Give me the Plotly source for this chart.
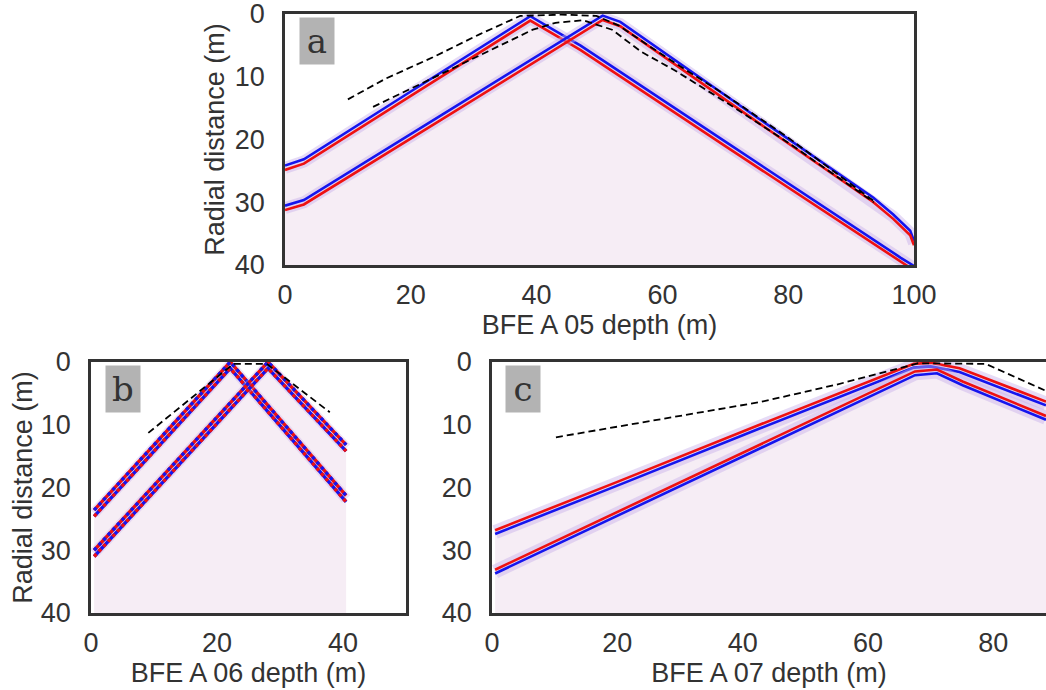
import numpy as np
import plotly.graph_objects as go

# picks read off the sections: first arrival (e1) and second arrival (e2), plus the dashed model curves
# panel a - BFE A 05
a_e1_x = [0, 3, 20, 39, 44.8, 47, 70, 90, 97.9, 100]
a_e1_y = [24.5, 23.5, 12.7, 0.7, 4.1, 5.4, 20.7, 34.0, 39.2, 40.5]
a_e2_x = [0, 3, 25, 44.8, 50.5, 53.3, 75, 93.5, 96.7, 99.4, 100]
a_e2_y = [30.9, 30.0, 16.4, 4.1, 0.6, 1.6, 16.8, 29.6, 32.3, 34.9, 36.5]
a_d1_x = [10.0, 16, 23.5, 31, 37.4, 44, 49.5, 53, 57, 62, 70, 80, 93.6]
a_d1_y = [13.6, 10.3, 6.9, 3.2, 0.3, 0.1, 0.3, 1.8, 4.5, 7.8, 12.9, 19.7, 29.8]
a_d2_x = [14.0, 21, 28.9, 34, 39.4, 43, 47.4, 52, 56.6, 62, 70, 80, 93.6]
a_d2_y = [14.8, 11.4, 7.6, 5.0, 2.5, 1.4, 1.0, 2.5, 6.0, 9.0, 14.0, 20.5, 30.0]

# panel b - BFE A 06
b_e1_x = [0.5, 22.1, 40.5]
b_e1_y = [24.1, 0.5, 21.8]
b_e2_x = [0.5, 25.5, 28.1, 40.5]
b_e2_y = [30.5, 3.3, 0.5, 13.7]
b_d_x = [9.1, 22.6, 27.9, 37.9]
b_d_y = [11.3, 0.3, 0.3, 8.0]

# panel c - BFE A 07
c_e1_x = [0.5, 20, 42.7, 60, 67.3, 70, 74.6, 88.4]
c_e1_y = [27.1, 19.4, 10.3, 3.4, 0.6, 0.4, 1.3, 6.6]
c_e2_x = [0.5, 20, 45, 60, 67.5, 71, 75.1, 88.4]
c_e2_y = [33.4, 24.2, 12.4, 5.3, 1.8, 1.5, 3.4, 8.9]
c_d_x = [10.2, 25, 42.7, 55, 68, 78.8, 88.4]
c_d_y = [12.0, 9.4, 6.4, 3.6, 0.2, 0.3, 4.6]

RED = '#ee1111'
BLUE = '#1515ee'
FONT = 'Liberation Sans'
TXT = '#333333'

fig = go.Figure()


def noise_fill(e1x, e1y, e2x, e2y, xmax, xa, ya):
    # faint background texture below the first arrivals
    xs = np.union1d(e1x, e2x)
    xs = xs[xs <= xmax]
    env = np.minimum(np.interp(xs, e1x, e1y), np.interp(xs, e2x, e2y))
    fx = list(xs) + [xs[-1], xs[0]]
    fy = list(env) + [40, 40]
    fig.add_trace(go.Scatter(x=fx, y=fy, fill='toself', fillcolor='#f6edf5',
                             line=dict(width=0), mode='lines', hoverinfo='skip',
                             xaxis=xa, yaxis=ya))


def band(x, y, xa, ya, first, second, off=0.35, halo=12):
    y = np.array(y)
    fig.add_trace(go.Scatter(x=x, y=y, mode='lines', hoverinfo='skip',
                             line=dict(color='rgba(200,175,235,0.45)', width=halo),
                             xaxis=xa, yaxis=ya))
    fig.add_trace(go.Scatter(x=x, y=y - off, mode='lines', hoverinfo='skip',
                             line=dict(color=first, width=2.6), xaxis=xa, yaxis=ya))
    fig.add_trace(go.Scatter(x=x, y=y + off, mode='lines', hoverinfo='skip',
                             line=dict(color=second, width=2.6), xaxis=xa, yaxis=ya))


def dotted_band(x, y, xa, ya, off=0.5):
    # coarse sampling in BFE A 06 gives a checkerboard of red/blue samples
    y = np.array(y)
    fig.add_trace(go.Scatter(x=x, y=y, mode='lines', hoverinfo='skip',
                             line=dict(color='rgba(200,175,235,0.35)', width=11),
                             xaxis=xa, yaxis=ya))
    for yy, c1, c2 in [(y - off, RED, BLUE), (y + off, BLUE, RED)]:
        fig.add_trace(go.Scatter(x=x, y=yy, mode='lines', hoverinfo='skip',
                                 line=dict(color=c1, width=3.4), xaxis=xa, yaxis=ya))
        fig.add_trace(go.Scatter(x=x, y=yy, mode='lines', hoverinfo='skip',
                                 line=dict(color=c2, width=3.4, dash='dot'), xaxis=xa, yaxis=ya))


def dashed(x, y, xa, ya):
    fig.add_trace(go.Scatter(x=x, y=y, mode='lines', hoverinfo='skip',
                             line=dict(color='black', width=1.8, dash='7px,4px'),
                             xaxis=xa, yaxis=ya))


# panel a
noise_fill(a_e1_x, a_e1_y, a_e2_x, a_e2_y, 100, 'x', 'y')
band(a_e1_x, a_e1_y, 'x', 'y', BLUE, RED)
band(a_e2_x, a_e2_y, 'x', 'y', BLUE, RED)
dashed(a_d1_x, a_d1_y, 'x', 'y')
dashed(a_d2_x, a_d2_y, 'x', 'y')

# panel b
noise_fill(b_e1_x, b_e1_y, b_e2_x, b_e2_y, 40.5, 'x2', 'y2')
dotted_band(b_e1_x, b_e1_y, 'x2', 'y2')
dotted_band(b_e2_x, b_e2_y, 'x2', 'y2')
dashed(b_d_x, b_d_y, 'x2', 'y2')

# panel c
noise_fill(c_e1_x, c_e1_y, c_e2_x, c_e2_y, 88.4, 'x3', 'y3')
band(c_e1_x, c_e1_y, 'x3', 'y3', RED, BLUE, off=0.3, halo=14)
band(c_e2_x, c_e2_y, 'x3', 'y3', RED, BLUE, off=0.3, halo=14)
dashed(c_d_x, c_d_y, 'x3', 'y3')

W, H = 1046, 690


def xdom(l, r):
    return [l / W, r / W]


def ydom(t, b):
    return [1 - b / H, 1 - t / H]


ax_common = dict(showgrid=False, zeroline=False, showline=True, linecolor='#333333',
                 linewidth=2.5, ticks='', automargin=False, ticklabeloverflow='allow',
                 tickfont=dict(family=FONT, size=27, color=TXT),
                 title_font=dict(family=FONT, size=27, color=TXT))

fig.update_layout(
    width=W, height=H, margin=dict(l=0, r=0, t=0, b=0),
    paper_bgcolor='white', plot_bgcolor='white', showlegend=False,
    xaxis=dict(ax_common, domain=xdom(285, 914), range=[0, 100], anchor='y', mirror=True,
               tickvals=[0, 20, 40, 60, 80, 100], ticklabelstandoff=4,
               title=dict(text='BFE A 05 depth (m)', standoff=4)),
    yaxis=dict(ax_common, domain=ydom(14, 265), range=[40, 0], anchor='x', mirror=True,
               tickvals=[0, 10, 20, 30, 40], ticklabelstandoff=12,
               title=dict(text='Radial distance (m)', standoff=3)),
    xaxis2=dict(ax_common, domain=xdom(91, 406), range=[0, 50], anchor='y2', mirror=True,
                tickvals=[0, 20, 40], ticklabelstandoff=4,
                title=dict(text='BFE A 06 depth (m)', standoff=4)),
    yaxis2=dict(ax_common, domain=ydom(362, 613), range=[40, 0], anchor='x2', mirror=True,
                tickvals=[0, 10, 20, 30, 40], ticklabelstandoff=12,
                title=dict(text='Radial distance (m)', standoff=1)),
    xaxis3=dict(ax_common, domain=xdom(492, 1046), range=[0, 88.4], anchor='y3', mirror=True,
                tickvals=[0, 20, 40, 60, 80], ticklabelstandoff=4,
                title=dict(text='BFE A 07 depth (m)', standoff=4)),
    yaxis3=dict(ax_common, domain=ydom(362, 613), range=[40, 0], anchor='x3', mirror=False,
                tickvals=[0, 10, 20, 30, 40], ticklabelstandoff=12),
)

for lab, xa, ya, xp in [('a', 'x', 'y', 0.022), ('b', 'x2', 'y2', 0.044), ('c', 'x3', 'y3', 0.023)]:
    fig.add_annotation(text=lab, xref=xa + ' domain', yref=ya + ' domain',
                       x=xp, y=0.99, xanchor='left', yanchor='top', showarrow=False,
                       width=32, height=44, bgcolor='#b3b3b3', valign='middle',
                       font=dict(family='DejaVu Serif', size=34, color=TXT))

# the page body has a default 8px margin; drop it so the figure fills the window
fig.write_html("out.html", config={'displayModeBar': False},
               post_script="document.body.style.margin='0';")
